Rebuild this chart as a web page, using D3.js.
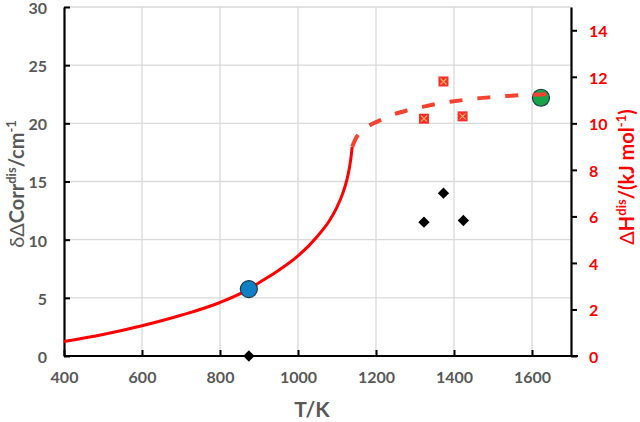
<!DOCTYPE html>
<html>
<head>
  <script src="https://cdn.jsdelivr.net/npm/d3@7"></script>
  <style>
    body { margin: 0; background: #fff; }
    text { font-family: Lato, "Liberation Sans", sans-serif; font-weight: bold; }
  </style>
</head>
<body>
  <div id="chart"></div>
  <script>
    // red model curve (left axis units), solid part
    const solidT = [400, 500, 600, 700, 800, 874, 900, 950, 1000, 1050, 1080, 1100, 1115, 1125, 1132, 1136, 1139];
    const solidV = [1.25, 1.85, 2.6, 3.5, 4.6, 5.75, 6.3, 7.35, 8.6, 10.3, 11.6, 12.8, 14.0, 15.1, 16.2, 17.1, 18.0];
    // dashed continuation
    const dashT = [1139, 1150, 1165, 1185, 1210, 1244, 1279, 1318, 1351, 1390, 1423, 1462, 1497, 1536, 1569, 1641];
    const dashV = [18.0, 18.8, 19.4, 19.85, 20.25, 20.75, 21.1, 21.4, 21.65, 21.85, 22.0, 22.15, 22.25, 22.35, 22.42, 22.5];
    // black diamonds (left axis)
    const diamondT = [874, 1323, 1373, 1424];
    const diamondV = [0, 11.5, 14.0, 11.65];
    // red squares (right axis, kJ/mol)
    const squareT = [1323, 1373, 1422];
    const squareV = [10.2, 11.8, 10.3];
    // circles (left axis)
    const circleT = [874, 1623];
    const circleV = [5.75, 22.2];
    const circleFill = ["#0f7fc6", "#17a34a"];

    const xTicks = [400, 600, 800, 1000, 1200, 1400, 1600];
    const yTicks = [0, 5, 10, 15, 20, 25, 30];
    const y2Ticks = [0, 2, 4, 6, 8, 10, 12, 14];

    const width = 640, height = 422;
    const m = { left: 64, right: 69, top: 7, bottom: 66 };

    const svg = d3.select("#chart").append("svg")
      .attr("width", width).attr("height", height);

    const x = d3.scaleLinear().domain([400, 1700]).range([m.left, width - m.right]);
    const y = d3.scaleLinear().domain([0, 30]).range([height - m.bottom, m.top]);
    const y2 = d3.scaleLinear().domain([0, 15]).range([height - m.bottom, m.top]);

    const grey = "#595959";

    // gridlines
    svg.append("g").selectAll("line").data(xTicks.slice(1)).join("line")
      .attr("x1", d => x(d)).attr("x2", d => x(d))
      .attr("y1", y(0)).attr("y2", y(30))
      .attr("stroke", "#d9d9d9").attr("stroke-width", 1.3);
    svg.append("g").selectAll("line").data(yTicks.slice(1)).join("line")
      .attr("x1", x(400)).attr("x2", x(1700))
      .attr("y1", d => y(d)).attr("y2", d => y(d))
      .attr("stroke", "#d9d9d9").attr("stroke-width", 1.3);

    // axes
    const fmt = d3.format("d");
    const xAxis = svg.append("g").attr("transform", `translate(0,${y(0)})`)
      .call(d3.axisBottom(x).tickValues(xTicks).tickFormat(fmt).tickSizeInner(-6).tickSizeOuter(0).tickPadding(16));
    const yAxis = svg.append("g").attr("transform", `translate(${x(400)},0)`)
      .call(d3.axisLeft(y).tickValues(yTicks).tickFormat(fmt).tickSizeInner(-6).tickSizeOuter(0).tickPadding(17));
    const y2Axis = svg.append("g").attr("transform", `translate(${x(1700)},0)`)
      .call(d3.axisRight(y2).tickValues(y2Ticks).tickFormat(fmt).tickSizeInner(6).tickSizeOuter(0).tickPadding(12));

    [xAxis, yAxis, y2Axis].forEach(g => {
      g.select(".domain").attr("stroke", "#000").attr("stroke-width", 2.2);
      g.selectAll(".tick line").attr("stroke", "#000").attr("stroke-width", 2);
      g.selectAll(".tick text").attr("font-size", 16).attr("font-weight", "bold")
        .attr("font-family", "Lato, sans-serif");
    });
    xAxis.selectAll(".tick text").attr("fill", grey);
    yAxis.selectAll(".tick text").attr("fill", grey).attr("dy", "0.4em");
    y2Axis.selectAll(".tick text").attr("fill", "#ff0000").attr("dy", "0.4em");
    // bottom axis line runs to right axis
    xAxis.select(".domain").attr("d", `M${x(400)},0H${x(1700) + 7}`);

    const line = d3.line().x(d => x(d[0])).y(d => y(d[1])).curve(d3.curveMonotoneX);

    svg.append("path")
      .attr("d", line(d3.zip(solidT, solidV)))
      .attr("fill", "none").attr("stroke", "#ff0000").attr("stroke-width", 3);

    // circles
    svg.append("g").selectAll("circle").data(d3.range(circleT.length)).join("circle")
      .attr("cx", i => x(circleT[i])).attr("cy", i => y(circleV[i]))
      .attr("r", 8.5).attr("fill", i => circleFill[i])
      .attr("stroke", "#1f3a4a").attr("stroke-width", 1.2);

    svg.append("path")
      .attr("d", line(d3.zip(dashT, dashV)))
      .attr("fill", "none").attr("stroke", "#f5412d").attr("stroke-width", 4)
      .attr("stroke-dasharray", "13,15");

    // black diamonds
    svg.append("g").selectAll("path").data(d3.zip(diamondT, diamondV)).join("path")
      .attr("transform", d => `translate(${x(d[0])},${y(d[1])}) rotate(45)`)
      .attr("d", "M-4,-4H4V4H-4Z").attr("fill", "#000");

    // red squares with cross
    const sq = svg.append("g").selectAll("g").data(d3.zip(squareT, squareV)).join("g")
      .attr("transform", d => `translate(${x(d[0])},${y2(d[1])})`);
    sq.append("rect").attr("x", -5).attr("y", -5).attr("width", 10).attr("height", 10)
      .attr("fill", "#ff2a2a");
    sq.append("path").attr("d", "M-3,-3L3,3M-3,3L3,-3")
      .attr("stroke", "#ffb060").attr("stroke-width", 1.2);

    // axis titles
    svg.append("text").attr("x", 312).attr("y", 417)
      .attr("text-anchor", "middle").attr("font-size", 21).attr("fill", grey)
      .text("T/K");

    const lt = svg.append("text")
      .attr("transform", `translate(24,184) rotate(-90)`)
      .attr("text-anchor", "middle").attr("font-size", 20).attr("fill", grey);
    lt.append("tspan").attr("font-weight", "normal").text("δΔ");
    lt.append("tspan").text("Corr");
    lt.append("tspan").attr("font-size", 13).attr("dy", -8).text("dis");
    lt.append("tspan").attr("dy", 8).text("/cm");
    lt.append("tspan").attr("font-size", 13).attr("dy", -8).text("-1");

    const rt = svg.append("text")
      .attr("transform", `translate(634,177) rotate(-90)`)
      .attr("text-anchor", "middle").attr("font-size", 20).attr("fill", "#ff0000");
    rt.append("tspan").attr("font-weight", "normal").text("Δ");
    rt.append("tspan").text("H");
    rt.append("tspan").attr("font-size", 13).attr("dy", -8).text("dis");
    rt.append("tspan").attr("dy", 8).text("/(kJ mol");
    rt.append("tspan").attr("font-size", 13).attr("dy", -8).text("-1");
    rt.append("tspan").attr("dy", 8).text(")");
  </script>
</body>
</html>
